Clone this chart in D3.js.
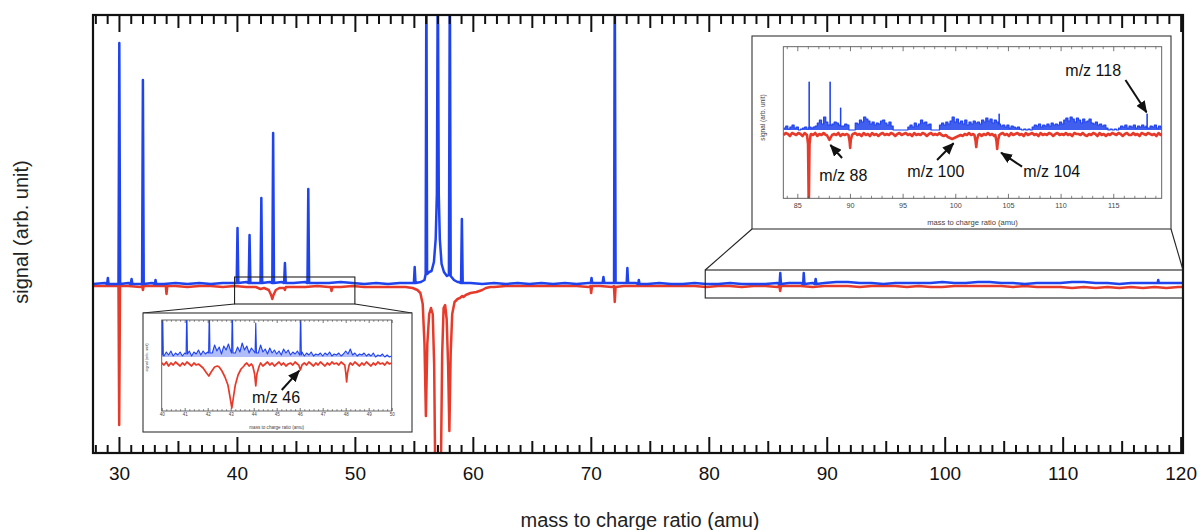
<!DOCTYPE html>
<html>
<head>
<meta charset="utf-8">
<script src="https://cdn.jsdelivr.net/npm/d3@7"></script>
<style>
  html, body { margin: 0; padding: 0; background: #fff; }
  svg { display: block; }
  text { font-family: "Liberation Sans", Arial, Helvetica, sans-serif; }
</style>
</head>
<body>
<svg id="chart" width="1200" height="530"></svg>
<script>
// ---------- data (signal in arbitrary units, blue = positive trace, red = negative trace) ----------

// main spectrum: coarse baseline samples every 1 amu starting at 27.8
const mainGridStart = 27.8
const mainGridStep = 1
const mainBlueBase = [
  0, 1, 0, 1, 0, 1, 0, 1, 0, 1,
  0, 1, 1, 2, 1, 2, 2, 1, 2, 1,
  1, 2, 1, 0, 1, 0, 1, 1, 3, 8,
  8, 2, 1, 0, 1, 0, 1, 0, 1, 0,
  1, 0, 1, 1, 1, 1, 1, 0, 1, 0,
  0, 1, 0, 0, 1, 0, 0, 0, 1, 1,
  1, 1, 1, 2, 2, 1, 1, 0, 1, 1,
  1, 1, 2, 1, 1, 2, 2, 1, 1, 0,
  1, 1, 1, 2, 2, 1, 1, 0, 1, 1,
  1, 1, 1, 1
]
const mainRedBase = [
  -2, -2, -2, -2, -3, -2, -2, -2, -3, -2,
  -2, -3, -2, -3, -3, -4, -3, -3, -3, -2,
  -3, -3, -2, -3, -3, -3, -3, -4, -9, -20,
  -14, -8, -4, -3, -3, -2, -2, -2, -2, -2,
  -2, -2, -3, -2, -3, -2, -2, -2, -2, -2,
  -2, -2, -3, -2, -2, -3, -2, -2, -3, -2,
  -2, -3, -2, -2, -2, -3, -2, -2, -2, -3,
  -2, -3, -3, -2, -2, -2, -2, -2, -3, -2,
  -3, -3, -3, -4, -3, -4, -3, -4, -3, -4,
  -3, -4, -3, -3
]
const mainBluePeaks = [
  [[29.0, 0], [29.06, 6], [29.12, 0]],
  [[29.96, 0], [30.03, 241], [30.1, 0]],
  [[31.0, 0], [31.07, 5], [31.14, 0]],
  [[31.96, 0], [32.03, 204], [32.1, 0]],
  [[33.05, 0], [33.1, 4], [33.16, 0]],
  [[39.98, 1], [40.05, 56], [40.12, 1]],
  [[41.0, 1], [41.07, 49], [41.14, 1]],
  [[42.0, 1], [42.07, 86], [42.14, 1]],
  [[43.0, 1], [43.07, 151], [43.14, 1]],
  [[44.0, 1], [44.07, 21], [44.14, 1]],
  [[45.98, 1], [46.05, 95], [46.12, 1]],
  [[55.0, 1], [55.07, 17], [55.14, 1]],
  [[55.6, 2], [55.9, 4], [56.0, 10], [56.06, 320], [56.12, 10], [56.3, 12], [56.5, 13], [56.7, 22],
   [56.85, 45], [56.95, 90], [57.03, 320], [57.11, 90], [57.2, 45], [57.35, 20], [57.55, 12],
   [57.8, 8], [57.97, 9], [58.05, 320], [58.12, 8], [58.4, 4], [58.7, 2]],
  [[59.0, 1], [59.07, 65], [59.14, 1]],
  [[70.0, 1], [70.06, 6], [70.12, 1]],
  [[71.0, 1], [71.07, 7], [71.14, 1]],
  [[71.97, 1], [72.03, 320], [72.1, 1]],
  [[73.04, 1], [73.1, 16], [73.16, 1]],
  [[74.02, 0], [74.07, 4], [74.13, 0]],
  [[86.0, 0], [86.06, 11], [86.12, 0]],
  [[88.0, 0], [88.05, 11], [88.11, 0]],
  [[89.0, 0], [89.06, 5], [89.12, 0]],
  [[118.05, 1], [118.1, 4], [118.16, 1]]
]
const mainRedDips = [
  [[29.96, -2], [30.02, -141], [30.09, -2]],
  [[31.97, -2], [32.03, -6], [32.1, -2]],
  [[33.97, -2], [34.03, -10], [34.1, -2]],
  [[41.6, -3], [42.0, -5], [42.3, -4], [42.7, -6], [42.9, -11], [43.0, -15], [43.1, -11],
   [43.3, -6], [43.6, -4], [44.0, -4], [44.07, -6], [44.15, -3]],
  [[47.95, -3], [48.02, -7], [48.1, -3]],
  [[54.3, -3], [54.9, -4], [55.3, -6], [55.55, -9], [55.75, -20], [55.9, -60], [56.02, -132],
   [56.14, -60], [56.3, -30], [56.45, -24], [56.6, -30], [56.72, -80], [56.8, -175], [57.05, -280],
   [57.3, -175], [57.4, -70], [57.52, -24], [57.65, -21], [57.78, -35], [57.9, -80], [58.01, -147],
   [58.12, -70], [58.25, -30], [58.45, -18], [58.7, -15], [58.9, -14], [59.1, -12], [59.2, -13],
   [59.4, -11], [59.8, -9], [60.3, -8], [60.8, -6], [61.1, -4], [61.5, -3]],
  [[69.97, -2], [70.03, -9], [70.1, -2]],
  [[71.96, -2], [72.03, -18], [72.1, -3]],
  [[85.98, -2], [86.05, -7], [86.12, -2]]
]
const mainMajorTicks = [30, 40, 50, 60, 70, 80, 90, 100, 110, 120]
const mainMidTicks = [35, 45, 55, 65, 75, 85, 95, 105, 115]

// inset A: 40-50 amu, samples every 0.1 amu
const insetAGridStart = 40
const insetAGridStep = 0.1
const insetABlueBase = [
  3, 1, 5, 2, 6, 1, 4, 2, 5, 1,
  4, 2, 6, 1, 5, 3, 7, 2, 6, 3,
  5, 9, 4, 12, 6, 10, 3, 11, 7, 13,
  6, 9, 4, 10, 5, 14, 7, 11, 4, 9,
  6, 10, 4, 12, 5, 8, 3, 9, 4, 7,
  3, 6, 2, 8, 4, 7, 2, 5, 3, 6,
  2, 5, 1, 4, 2, 5, 1, 3, 2, 4,
  1, 4, 2, 5, 1, 3, 2, 4, 1, 3,
  6, 3, 8, 2, 4, 1, 3, 2, 4, 1,
  3, 1, 4, 0, 2, 1, 3, 0, 2, 0,
  1
]
const insetARedBase = [
  -6, -8, -5, -9, -6, -8, -5, -7, -9, -6,
  -8, -5, -7, -9, -6, -8, -7, -9, -10, -12,
  -17, -14, -10, -8, -9, -14, -20, -28, -40, -51,
  -45, -36, -25, -17, -12, -9, -8, -6, -9, -7,
  -9, -12, -8, -6, -9, -7, -5, -8, -6, -9,
  -7, -5, -8, -6, -9, -7, -6, -8, -5, -7,
  -9, -8, -6, -8, -5, -7, -9, -6, -8, -5,
  -7, -9, -6, -8, -5, -7, -6, -8, -5, -7,
  -9, -10, -6, -8, -5, -7, -9, -6, -8, -5,
  -7, -9, -6, -8, -5, -7, -6, -8, -5, -7,
  -6
]
const insetABluePeaks = [
  [[40.02, 2], [40.04, 50], [40.07, 2]],
  [[41.06, 3], [41.09, 50], [41.12, 3]],
  [[42.04, 4], [42.07, 50], [42.1, 4]],
  [[43.04, 4], [43.07, 50], [43.1, 4]],
  [[44.06, 4], [44.09, 34], [44.12, 4]],
  [[46.01, 2], [46.04, 50], [46.07, 2]]
]
const insetARedDips = [
  [[41.65, -8], [41.8, -11], [41.95, -16], [42.05, -19], [42.15, -15], [42.3, -10], [42.42, -9]],
  [[42.5, -10], [42.62, -14], [42.75, -20], [42.88, -28], [42.97, -40], [43.05, -51], [43.12, -40],
   [43.2, -28], [43.32, -18], [43.45, -12], [43.58, -9]],
  [[43.96, -9], [44.04, -17], [44.09, -29], [44.14, -17], [44.24, -9]],
  [[45.96, -8], [46.03, -13], [46.1, -8]],
  [[47.96, -8], [48.01, -17], [48.04, -25], [48.08, -16], [48.15, -8]]
]
const insetATickLabels = [40, 41, 42, 43, 44, 45, 46, 47, 48, 49, 50]

// inset B: 84-120 amu, samples every 0.2 amu starting at 83.7
const insetBGridStart = 83.7
const insetBGridStep = 0.2
const insetBBlueBase = [
  2, 4, 1, 3, 5,   2, 3, 0, 1, 2,   3, 1, 4, 2, 3,   4, 7, 10, 6, 13,
  8, 5, 9, 6, 8,   7, 5, 8, 4, 6,   5, 0, 0, 0, 7,   6, 10, 8, 13, 11,
  9, 6, 8, 5, 7,   6, 9, 10, 7, 5,  8, 4, 0, 0, 0,   0, 0, 0, 0, 3,
  5, 3, 7, 4, 6,   10, 7, 8, 5, 6,  0, 0, 0, 0, 5,   7, 5, 8, 6, 9,
  13, 8, 11, 7, 9, 6, 10, 5, 8, 6,  9, 7, 8, 6, 10,  8, 12, 9, 11, 7,
  10, 8, 6, 4, 5,  3, 5, 2, 4, 3,   2, 3, 1, 0, 1,   0, 1, 0, 3, 5,
  4, 6, 3, 5, 4,   6, 4, 7, 5, 6,   5, 8, 6, 10, 12, 9, 13, 11, 8, 12,
  10, 7, 11, 8, 9, 11, 7, 6, 8, 5,  6, 4, 5, 2, 0,   1, 0, 1, 0, 2,
  4, 3, 5, 2, 4,   3, 5, 2, 4, 3,   5, 3, 4, 2, 4,   3, 5, 2, 4, 3,
  2
]
const insetBRedBase = [
  -5, -3, -4, -6, -3,  -4, -5, -3, -4, -6,  -3, -5, -4, -4, -5,  -3, -6, -4, -5, -3,
  -5, -6, -8, -6, -4,  -5, -3, -6, -4, -5,  -4, -7, -5, -4, -3,  -5, -4, -6, -3, -5,
  -4, -6, -3, -5, -4,  -6, -4, -3, -5, -4,  -5, -3, -4, -6, -4,  -3, -5, -4, -3, -5,
  -4, -6, -3, -5, -4,  -5, -3, -4, -6, -4,  -3, -5, -4, -5, -3,  -5, -6, -5, -7, -8,
  -9, -8, -7, -6, -5,  -6, -4, -5, -3, -5,  -4, -6, -5, -4, -6,  -4, -5, -3, -5, -4,
  -6, -7, -5, -4, -3,  -5, -4, -6, -3, -5,  -4, -3, -5, -4, -6,  -3, -5, -4, -3, -5,
  -4, -6, -3, -5, -4,  -5, -3, -4, -6, -4,  -3, -5, -4, -5, -3,  -5, -4, -6, -3, -4,
  -4, -5, -3, -5, -6,  -4, -5, -3, -4, -6,  -3, -5, -4, -6, -4,  -5, -3, -4, -5, -3,
  -4, -6, -4, -3, -5,  -5, -3, -5, -4, -6,  -3, -4, -5, -3, -4,  -5, -4, -6, -3, -5,
  -4
]
const insetBBluePeaks = [
  [[86.08, 3], [86.11, 48], [86.14, 3]],
  [[88.07, 5], [88.1, 48], [88.13, 5]],
  [[89.07, 4], [89.1, 22], [89.13, 4]],
  [[104.12, 6], [104.15, 16], [104.18, 6]],
  [[118.17, 2], [118.2, 16], [118.23, 2]]
]
const insetBRedDips = [
  [[85.92, -5], [86.02, -14], [86.09, -80], [86.16, -14], [86.26, -5]],
  [[87.8, -5], [88.05, -10], [88.3, -5]],
  [[89.86, -5], [89.96, -11], [90.02, -18], [90.08, -10], [90.2, -5]],
  [[101.82, -5], [101.93, -11], [101.99, -17], [102.06, -10], [102.18, -5]],
  [[103.8, -5], [103.91, -11], [103.98, -19], [104.05, -11], [104.18, -5]]
]
const insetBTickLabels = [85, 90, 95, 100, 105, 110, 115]

// ---------- helpers ----------
function buildSeries(start, step, values, features) {
  const ranges = features.map((f) => [f[0][0], f[f.length - 1][0]])
  const grid = values
    .map((v, i) => [+(start + i * step).toFixed(3), v])
    .filter((p) => !ranges.some((r) => p[0] >= r[0] && p[0] <= r[1]))
  return grid.concat(...features).sort((a, b) => a[0] - b[0])
}

function range(a, b, step) {
  const out = []
  for (let i = 0; a + i * step <= b + 1e-9; i++) out.push(+(a + i * step).toFixed(3))
  return out
}

const BLUE = "#1f43ec"
const RED = "#e63b2b"

const svg = d3.select("#chart")
const defs = svg.append("defs")

defs.append("marker")
  .attr("id", "arrowhead")
  .attr("viewBox", "0 0 12 10")
  .attr("refX", 11)
  .attr("refY", 5)
  .attr("markerWidth", 12)
  .attr("markerHeight", 10)
  .attr("markerUnits", "userSpaceOnUse")
  .attr("orient", "auto")
  .append("path")
  .attr("d", "M0,0L12,5L0,10Z")
  .attr("fill", "#111")

function clip(id, x, y, w, h) {
  defs.append("clipPath").attr("id", id)
    .append("rect").attr("x", x).attr("y", y).attr("width", w).attr("height", h)
}

function drawTicks(g, axisFn, scale, values, size, width, color, labels, font, pad) {
  const axis = axisFn(scale).tickValues(values).tickSize(-size).tickPadding(pad || 0)
  axis.tickFormat(labels ? d3.format("d") : "")
  const a = g.append("g").call(axis)
  a.select(".domain").remove()
  a.selectAll("line").attr("stroke", color).attr("stroke-width", width)
  a.selectAll("text")
    .attr("fill", labels ? labels : "none")
    .attr("font-size", font || 10)
    .attr("font-family", "Liberation Sans, Arial, sans-serif")
  return a
}

// ---------- main plot ----------
const M = { left: 93, right: 1183, top: 15, bottom: 453 }
const x = d3.scaleLinear().domain([27.8, 120.2]).range([M.left, M.right])
const y = d3.scaleLinear().domain([-169, 269]).range([M.bottom, M.top])
clip("clip-main", M.left, M.top, M.right - M.left, M.bottom - M.top)

const mainBlue = buildSeries(mainGridStart, mainGridStep, mainBlueBase, mainBluePeaks)
const mainRed = buildSeries(mainGridStart, mainGridStep, mainRedBase, mainRedDips)
const mainLine = d3.line().x((d) => x(d[0])).y((d) => y(d[1]))

const plot = svg.append("g").attr("clip-path", "url(#clip-main)")
plot.append("path").datum(mainRed).attr("d", mainLine)
  .attr("fill", "none").attr("stroke", RED).attr("stroke-width", 2.5).attr("stroke-linejoin", "round")
plot.append("path").datum(mainBlue).attr("d", mainLine)
  .attr("fill", "none").attr("stroke", BLUE).attr("stroke-width", 2.5).attr("stroke-linejoin", "round")

const allInts = range(28, 120, 1)
const minorTicks = allInts.filter((v) => v % 5 !== 0)
const bottomG = svg.append("g").attr("transform", `translate(0,${M.bottom})`)
drawTicks(bottomG, d3.axisBottom, x, minorTicks, 8, 2, "#111")
drawTicks(bottomG, d3.axisBottom, x, mainMidTicks, 12, 2, "#111")
drawTicks(bottomG, d3.axisBottom, x, mainMajorTicks, 16, 2, "#111", "#111", 19, 14)
const topG = svg.append("g").attr("transform", `translate(0,${M.top})`)
drawTicks(topG, d3.axisTop, x, minorTicks, 9, 2, "#111")
drawTicks(topG, d3.axisTop, x, mainMidTicks, 13, 2, "#111")
drawTicks(topG, d3.axisTop, x, mainMajorTicks, 17, 2, "#111")

svg.append("rect")
  .attr("x", M.left).attr("y", M.top)
  .attr("width", M.right - M.left).attr("height", M.bottom - M.top)
  .attr("fill", "none").attr("stroke", "#111").attr("stroke-width", 2.2)

svg.append("text")
  .attr("x", 640).attr("y", 527)
  .attr("text-anchor", "middle").attr("font-size", 20).attr("fill", "#222")
  .text("mass to charge ratio (amu)")
svg.append("text")
  .attr("transform", "translate(28,232) rotate(-90)")
  .attr("text-anchor", "middle").attr("font-size", 20).attr("fill", "#222")
  .text("signal (arb. unit)")

// ---------- zoom boxes and connectors ----------
const boxA = { x0: x(39.8), x1: x(50.0), top: y(7), bottom: y(-20) }
const boxB = { x0: x(79.7), x1: M.right, top: y(14), bottom: y(-14) }
const insetABox = { x: 143, y: 313, w: 269, h: 119 }
const insetBBox = { x: 752, y: 36, w: 419, h: 193 }

svg.append("rect").attr("x", boxA.x0).attr("y", boxA.top)
  .attr("width", boxA.x1 - boxA.x0).attr("height", boxA.bottom - boxA.top)
  .attr("fill", "none").attr("stroke", "#222").attr("stroke-width", 1.1)
svg.append("rect").attr("x", boxB.x0).attr("y", boxB.top)
  .attr("width", boxB.x1 - boxB.x0).attr("height", boxB.bottom - boxB.top)
  .attr("fill", "none").attr("stroke", "#222").attr("stroke-width", 1.1)

const connectors = [
  [boxA.x0, boxA.bottom, insetABox.x, insetABox.y],
  [boxA.x1, boxA.bottom, insetABox.x + insetABox.w, insetABox.y],
  [boxB.x0, boxB.top, insetBBox.x, insetBBox.y + insetBBox.h],
  [boxB.x1, boxB.top, insetBBox.x + insetBBox.w, insetBBox.y + insetBBox.h]
]
svg.selectAll("line.connector").data(connectors).join("line")
  .attr("class", "connector")
  .attr("x1", (d) => d[0]).attr("y1", (d) => d[1])
  .attr("x2", (d) => d[2]).attr("y2", (d) => d[3])
  .attr("stroke", "#222").attr("stroke-width", 1.1)

// ---------- insets ----------
function drawInset(cfg) {
  const g = svg.append("g")
  g.append("rect").attr("x", cfg.box.x).attr("y", cfg.box.y)
    .attr("width", cfg.box.w).attr("height", cfg.box.h)
    .attr("fill", "#fff").attr("stroke", "#333").attr("stroke-width", 1.1)

  const ix = d3.scaleLinear().domain(cfg.xDomain).range([cfg.area.left, cfg.area.right])
  const iy = d3.scaleLinear().domain(cfg.yDomain).range([cfg.area.bottom, cfg.area.top])
  clip(cfg.id, cfg.area.left, cfg.area.top, cfg.area.right - cfg.area.left, cfg.area.bottom - cfg.area.top)

  const pg = g.append("g").attr("clip-path", `url(#${cfg.id})`)
  const curve = cfg.blueCurve || d3.curveLinear
  const redLine = d3.line().x((d) => ix(d[0])).y((d) => iy(d[1]))
  const blueLine = d3.line().x((d) => ix(d[0])).y((d) => iy(d[1])).curve(curve)
  const blueArea = d3.area().x((d) => ix(d[0])).y0(iy(0)).y1((d) => iy(d[1])).curve(curve)

  pg.append("path").datum(cfg.red).attr("d", redLine)
    .attr("fill", "none").attr("stroke", RED).attr("stroke-width", cfg.redW).attr("stroke-linejoin", "round")
  pg.append("path").datum(cfg.blue).attr("d", blueArea)
    .attr("fill", BLUE).attr("fill-opacity", cfg.blueFill)
  pg.append("path").datum(cfg.blue).attr("d", blueLine)
    .attr("fill", "none").attr("stroke", BLUE).attr("stroke-width", cfg.blueW).attr("stroke-linejoin", "round")

  const bg = g.append("g").attr("transform", `translate(0,${cfg.area.bottom})`)
  drawTicks(bg, d3.axisBottom, ix, cfg.minor, cfg.minorLen, 0.7, "#555")
  drawTicks(bg, d3.axisBottom, ix, cfg.major, cfg.majorLen, 0.8, "#555", "#444", cfg.tickFont, cfg.tickPad)
  const tg = g.append("g").attr("transform", `translate(0,${cfg.area.top})`)
  drawTicks(tg, d3.axisTop, ix, cfg.minor, cfg.minorLen, 0.7, "#555")
  drawTicks(tg, d3.axisTop, ix, cfg.major, cfg.majorLen, 0.8, "#555")

  g.append("rect").attr("x", cfg.area.left).attr("y", cfg.area.top)
    .attr("width", cfg.area.right - cfg.area.left).attr("height", cfg.area.bottom - cfg.area.top)
    .attr("fill", "none").attr("stroke", "#555").attr("stroke-width", 0.9)

  g.append("text")
    .attr("x", (cfg.area.left + cfg.area.right) / 2).attr("y", cfg.xLabelY)
    .attr("text-anchor", "middle").attr("font-size", cfg.labelFont).attr("fill", "#444")
    .text("mass to charge ratio (amu)")
  g.append("text")
    .attr("transform", `translate(${cfg.yLabelX},${(cfg.area.top + cfg.area.bottom) / 2 - cfg.yLabelShift}) rotate(-90)`)
    .attr("text-anchor", "middle").attr("font-size", cfg.labelFont * 0.85).attr("fill", "#444")
    .text("signal (arb. unit)")

  cfg.notes.forEach((n) => {
    g.append("line")
      .attr("x1", ix(n.from[0])).attr("y1", iy(n.from[1]))
      .attr("x2", ix(n.to[0])).attr("y2", iy(n.to[1]))
      .attr("stroke", "#111").attr("stroke-width", 2)
      .attr("marker-end", "url(#arrowhead)")
    g.append("text")
      .attr("x", ix(n.tx)).attr("y", iy(n.ty))
      .attr("font-family", "Lato, 'Open Sans', sans-serif")
      .attr("font-size", 16).attr("fill", "#111")
      .text(n.text)
  })
}

drawInset({
  id: "clip-a",
  box: insetABox,
  area: { left: 161.7, right: 391.7, top: 320, bottom: 411 },
  xDomain: [40, 50],
  yDomain: [-54, 37],
  blue: buildSeries(insetAGridStart, insetAGridStep, insetABlueBase, insetABluePeaks),
  red: buildSeries(insetAGridStart, insetAGridStep, insetARedBase, insetARedDips),
  blueW: 1.1, redW: 1.7, blueFill: 0.35,
  minor: range(40, 50, 0.2).filter((v) => Math.abs(v - Math.round(v)) > 0.01),
  major: insetATickLabels,
  minorLen: 1.8, majorLen: 3,
  tickFont: 4.5, tickPad: 2.2,
  labelFont: 4.6, xLabelY: 428.5, yLabelX: 148, yLabelShift: 8,
  notes: [
    { text: "m/z 46", tx: 43.93, ty: -46, from: [45.22, -33], to: [45.98, -13.7] }
  ]
})

drawInset({
  id: "clip-b",
  box: insetBBox,
  area: { left: 783.3, right: 1161.7, top: 46.7, bottom: 198.3 },
  xDomain: [83.67, 119.6],
  yDomain: [-68.3, 83.3],
  blue: buildSeries(insetBGridStart, insetBGridStep, insetBBlueBase, insetBBluePeaks),
  red: buildSeries(insetBGridStart, insetBGridStep, insetBRedBase, insetBRedDips),
  blueCurve: d3.curveStepAfter,
  blueW: 1.2, redW: 2.6, blueFill: 0.85,
  minor: range(84, 119, 1).filter((v) => v % 5 !== 0),
  major: insetBTickLabels,
  minorLen: 2.5, majorLen: 4.5,
  tickFont: 7.2, tickPad: 4.5,
  labelFont: 7.6, xLabelY: 224.5, yLabelX: 765, yLabelShift: 5,
  notes: [
    { text: "m/z 118", tx: 110.45, ty: 54, from: [116.16, 50], to: [118.16, 17.7] },
    { text: "m/z 88", tx: 87.09, ty: -51, from: [89.25, -28], to: [88.14, -15] },
    { text: "m/z 100", tx: 95.45, ty: -47, from: [98.27, -30], to: [99.84, -13.3] },
    { text: "m/z 104", tx: 106.46, ty: -47, from: [106.34, -36.7], to: [104.35, -22.7] }
  ]
})
</script>
</body>
</html>
